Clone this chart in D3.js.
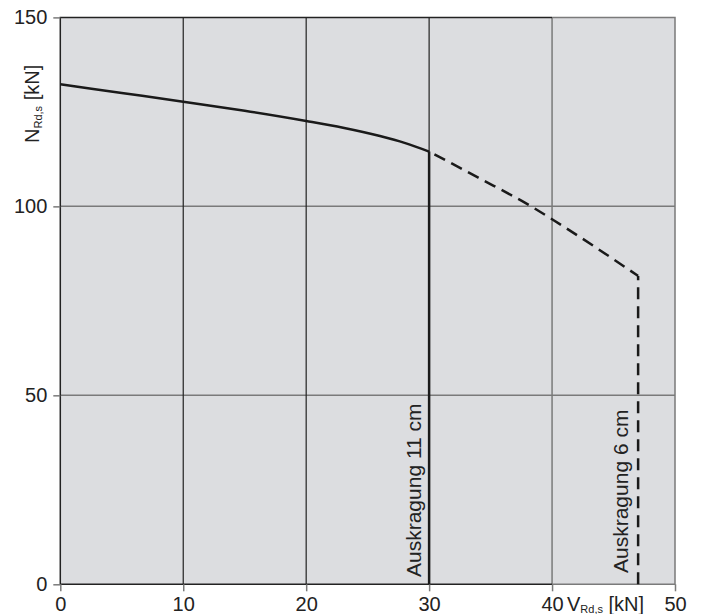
<!DOCTYPE html>
<html>
<head>
<meta charset="utf-8">
<script src="https://cdn.jsdelivr.net/npm/d3@7"></script>
<style>
  body { margin: 0; background: #fff; }
  text { font-family: "Liberation Sans", Arial, sans-serif; fill: #222; }
</style>
</head>
<body>
<div id="chart"></div>
<script>
// chart data
const xTicks = [0, 10, 20, 30, 40, 50];
const yTicks = [0, 50, 100, 150];
// Auskragung 11 cm, solid curve
const solidV = [0, 5, 10, 15, 20, 23, 26, 28, 30];
const solidN = [132.3, 130.0, 127.7, 125.3, 122.6, 120.8, 118.6, 116.8, 114.5];
// Auskragung 6 cm, dashed continuation
const dashV = [30, 34, 38.3, 40, 47];
const dashN = [114.5, 107.6, 100, 96.6, 81.6];
const cut11 = 30; // V where 11 cm ends
const cut6 = 47;  // V where 6 cm ends

const width = 701;
const height = 614;

const svg = d3.select("#chart").append("svg")
    .attr("width", width).attr("height", height);

const x = d3.scaleLinear().domain([0, 50]).range([60.3, 675]);
const y = d3.scaleLinear().domain([0, 150]).range([584.3, 17.4]);

// background
svg.append("rect")
    .attr("x", x(0)).attr("y", y(150))
    .attr("width", x(50) - x(0)).attr("height", y(0) - y(150))
    .attr("fill", "#dcdde0");

// horizontal grid (gray)
svg.selectAll("line.hgrid").data([50, 100]).enter()
    .append("line")
    .attr("x1", x(0)).attr("x2", x(50))
    .attr("y1", d => y(d)).attr("y2", d => y(d))
    .attr("stroke", "#7a7a7a").attr("stroke-width", 1.5);

// vertical grid
svg.selectAll("line.vgrid").data([10, 20, 30, 40]).enter()
    .append("line")
    .attr("x1", d => x(d)).attr("x2", d => x(d))
    .attr("y1", y(0)).attr("y2", y(150))
    .attr("stroke", d => d == 40 ? "#7a7a7a" : "#222")
    .attr("stroke-width", d => d == 40 ? 1.5 : 1.2);

// outer frame of the extension 40..50 (gray)
svg.append("path")
    .attr("d", `M${x(40)},${y(150)}H${x(50)}V${y(0)}H${x(40)}`)
    .attr("fill", "none").attr("stroke", "#7a7a7a").attr("stroke-width", 1.5);

// frame 0..40 (dark)
svg.append("path")
    .attr("d", `M${x(40)},${y(150)}H${x(0)}V${y(0)}H${x(40)}`)
    .attr("fill", "none").attr("stroke", "#222").attr("stroke-width", 1.5);

// axes
const xAxis = d3.axisBottom(x).tickValues(xTicks).tickSize(7).tickPadding(6);
const yAxis = d3.axisLeft(y).tickValues(yTicks).tickSize(7).tickPadding(6);

const gx = svg.append("g").attr("transform", `translate(0,${y(0)})`).call(xAxis);
const gy = svg.append("g").attr("transform", `translate(${x(0)},0)`).call(yAxis);
[gx, gy].forEach(g => {
    g.select(".domain").remove();
    g.selectAll(".tick line").attr("stroke", "#7a7a7a").attr("stroke-width", 1.5);
    g.selectAll(".tick text").style("font-size", "20px").attr("fill", "#222");
});
gx.selectAll(".tick text").attr("dy", "0.71em");

// curves
const line = d3.line().x(d => x(d[0])).y(d => y(d[1])).curve(d3.curveMonotoneX);

svg.append("path")
    .datum(solidV.map((v, i) => [v, solidN[i]]))
    .attr("d", line)
    .attr("fill", "none").attr("stroke", "#1a1a1a").attr("stroke-width", 2.5);

svg.append("path")
    .datum(dashV.map((v, i) => [v, dashN[i]]))
    .attr("d", line)
    .attr("fill", "none").attr("stroke", "#1a1a1a").attr("stroke-width", 2.5)
    .attr("stroke-dasharray", "12,7").attr("stroke-dashoffset", -6);

// vertical limits
svg.append("line")
    .attr("x1", x(cut11)).attr("x2", x(cut11))
    .attr("y1", y(solidN[solidN.length - 1])).attr("y2", y(0))
    .attr("stroke", "#1a1a1a").attr("stroke-width", 2.5);

svg.append("line")
    .attr("x1", x(cut6)).attr("x2", x(cut6))
    .attr("y1", y(0)).attr("y2", y(dashN[dashN.length - 1]))
    .attr("stroke", "#1a1a1a").attr("stroke-width", 2.5)
    .attr("stroke-dasharray", "12,7");

// rotated labels
function vlabel(px, py, txt) {
    svg.append("text")
        .attr("transform", `translate(${px},${py}) rotate(-90)`)
        .style("font-size", "21px")
        .text(txt);
}
vlabel(x(cut11) - 7.7, 577, "Auskragung 11 cm");
vlabel(x(cut6) - 10, 573, "Auskragung 6 cm");

// axis titles
const yt = svg.append("text")
    .attr("transform", "translate(39,143) rotate(-90)")
    .style("font-size", "20px");
yt.append("tspan").text("N");
yt.append("tspan").text("Rd,s").style("font-size", "11px").attr("dy", 3);
yt.append("tspan").text(" [kN]").attr("dy", -3);

const xt = svg.append("text")
    .attr("x", 567).attr("y", 610.5)
    .style("font-size", "20px");
xt.append("tspan").text("V");
xt.append("tspan").text("Rd,s").style("font-size", "11px").attr("dy", 2);
xt.append("tspan").text(" [kN]").attr("dy", -2);
</script>
</body>
</html>
